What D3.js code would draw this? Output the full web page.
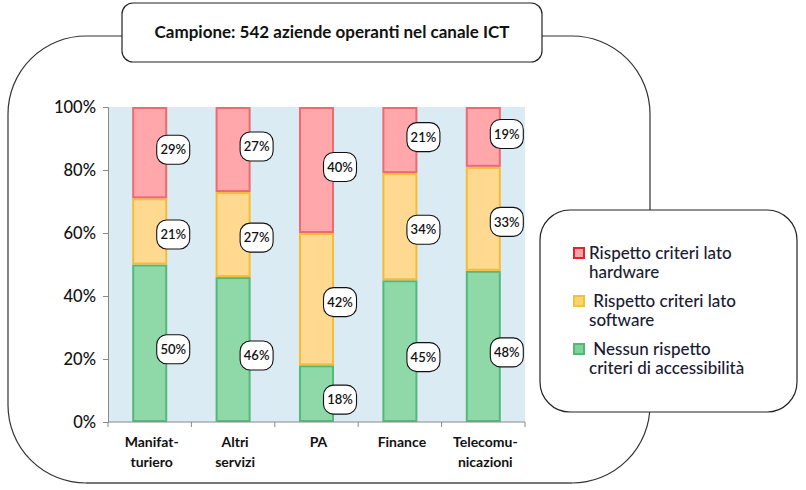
<!DOCTYPE html>
<html>
<head>
<meta charset="utf-8">
<script src="https://cdn.jsdelivr.net/npm/d3@7"></script>
<style>
  html, body { margin: 0; padding: 0; background: #fff; }
  svg { display: block; }
</style>
</head>
<body>
<svg id="chart" width="806" height="490"></svg>
<script>
// ---- data ----
const categories = [["Manifat-", "turiero"], ["Altri", "servizi"], ["PA"], ["Finance"], ["Telecomu-", "nicazioni"]];
const nessunRispetto = [50, 46, 18, 45, 48];
const rispettoSoftware = [21, 27, 42, 34, 33];
const rispettoHardware = [29, 27, 40, 21, 19];
const yTicks = [0, 20, 40, 60, 80, 100];
const legendLines = [["Rispetto criteri lato", "hardware"], [" Rispetto criteri lato", "software"], [" Nessun rispetto", "criteri di accessibilità"]];
const titleText = "Campione: 542 aziende operanti nel canale ICT";

// ---- styling ----
const FONT = "Lato, 'Open Sans', sans-serif";
const colors = {
  green: { fill: "#8fd9a8", stroke: "#55b87a" },
  yellow: { fill: "#ffd98f", stroke: "#f5bd35" },
  red: { fill: "#ffa7aa", stroke: "#ec6a70" }
};
const legendMarks = [
  { fill: "#f7a3a8", stroke: "#e0242e" },
  { fill: "#f9d36e", stroke: "#f2c23a" },
  { fill: "#7fd39a", stroke: "#52b877" }
];

const svg = d3.select("#chart");

// outer rounded container
svg.append("rect")
  .attr("x", 8).attr("y", 36).attr("width", 642).attr("height", 447)
  .attr("rx", 78).attr("ry", 78)
  .attr("fill", "#fff").attr("stroke", "#333").attr("stroke-width", 1.2);
svg.append("line")
  .attr("x1", 86).attr("x2", 572).attr("y1", 483).attr("y2", 483)
  .attr("stroke", "#777").attr("stroke-width", 2.2);

// title box
svg.append("rect")
  .attr("x", 122).attr("y", 3).attr("width", 420).attr("height", 59)
  .attr("rx", 11).attr("fill", "#fff").attr("stroke", "#222").attr("stroke-width", 1.2);
svg.append("text")
  .attr("x", 332).attr("y", 38)
  .attr("text-anchor", "middle")
  .attr("font-family", FONT)
  .attr("font-weight", "bold").attr("font-size", 17)
  .attr("fill", "#111")
  .text(titleText);

// ---- chart ----
const margin = { left: 108, right: 525, top: 107, bottom: 422 };
const x = d3.scaleBand().domain(d3.range(categories.length)).range([margin.left, margin.right]).paddingInner(0.58).paddingOuter(0.29);
const y = d3.scaleLinear().domain([0, 100]).range([margin.bottom, margin.top]);

svg.append("rect")
  .attr("x", margin.left).attr("y", margin.top)
  .attr("width", margin.right - margin.left).attr("height", margin.bottom - margin.top)
  .attr("fill", "#dbebf3");

const data = categories.map((c, i) => ({
  i, green: nessunRispetto[i], yellow: rispettoSoftware[i], red: rispettoHardware[i]
}));
const stacked = d3.stack().keys(["green", "yellow", "red"])(data);

const g = svg.append("g");
stacked.forEach(layer => {
  const c = colors[layer.key];
  g.selectAll(null).data(layer).enter().append("rect")
    .attr("x", d => x(d.data.i) + 1)
    .attr("y", d => y(d[1]) + 1)
    .attr("width", x.bandwidth() - 2)
    .attr("height", d => y(d[0]) - y(d[1]) - 2)
    .attr("fill", c.fill).attr("stroke", c.stroke).attr("stroke-width", 2);
});

// data labels
stacked.forEach(layer => {
  layer.forEach(d => {
    const val = d[1] - d[0];
    const cx = x(d.data.i) + x.bandwidth() + 6;
    const cy = y((d[0] + d[1]) / 2) + (layer.key === "red" ? -3 : (layer.key === "green" ? 6 : 3));
    const lg = svg.append("g").attr("transform", `translate(${cx},${cy})`);
    lg.append("rect")
      .attr("x", -16.5).attr("y", -14.5).attr("width", 33).attr("height", 29)
      .attr("rx", 10).attr("ry", 10)
      .attr("fill", "#fff").attr("stroke", "#111").attr("stroke-width", 1.1);
    lg.append("text")
      .attr("text-anchor", "middle").attr("dy", "0.36em")
      .attr("font-family", FONT).attr("font-weight", 600)
      .attr("font-size", 13).attr("fill", "#111")
      .text(val + "%");
  });
});

// y axis
const yAxis = d3.axisLeft(y).tickValues(yTicks).tickFormat(d => d + "%").tickSize(5).tickPadding(7);
const ya = svg.append("g").attr("transform", `translate(${margin.left},0)`).call(yAxis);
ya.select(".domain").attr("stroke", "#8a8a8a");
ya.selectAll(".tick line").attr("stroke", "#8a8a8a");
ya.selectAll(".tick text")
  .attr("font-family", FONT).attr("font-weight", 500)
  .attr("font-size", 16.5).attr("fill", "#111");

// x axis line and ticks between categories
const xLine = svg.append("g");
xLine.append("line")
  .attr("x1", margin.left).attr("x2", margin.right)
  .attr("y1", margin.bottom).attr("y2", margin.bottom)
  .attr("stroke", "#8a8a8a");
d3.range(categories.length + 1).forEach(k => {
  const xx = margin.left + k * (margin.right - margin.left) / categories.length;
  xLine.append("line")
    .attr("x1", xx).attr("x2", xx).attr("y1", margin.bottom).attr("y2", margin.bottom + 5)
    .attr("stroke", "#8a8a8a");
});

// category labels (one text per line)
categories.forEach((lines, i) => {
  lines.forEach((ln, j) => {
    svg.append("text")
      .attr("x", x(i) + x.bandwidth() / 2 + 2)
      .attr("y", 447 + j * 20)
      .attr("text-anchor", "middle")
      .attr("font-family", FONT)
      .attr("font-weight", "bold").attr("font-size", 14).attr("fill", "#111")
      .text(ln);
  });
});

// legend box
svg.append("rect")
  .attr("x", 540).attr("y", 210).attr("width", 257).attr("height", 202)
  .attr("rx", 30).attr("ry", 30)
  .attr("fill", "#fff").attr("stroke", "#222").attr("stroke-width", 1.2);

const legendTop = [248, 296, 344];
legendLines.forEach((lines, k) => {
  const m = legendMarks[k];
  svg.append("rect")
    .attr("x", 574).attr("y", legendTop[k]).attr("width", 10).attr("height", 10)
    .attr("fill", m.fill).attr("stroke", m.stroke).attr("stroke-width", 2);
  lines.forEach((ln, j) => {
    svg.append("text")
      .attr("x", 589).attr("y", legendTop[k] + 11 + j * 19)
      .attr("font-family", FONT).attr("font-weight", 500)
      .attr("font-size", 17).attr("fill", "#1b1b33")
      .style("white-space", "pre")
      .text(ln);
  });
});
</script>
</body>
</html>
